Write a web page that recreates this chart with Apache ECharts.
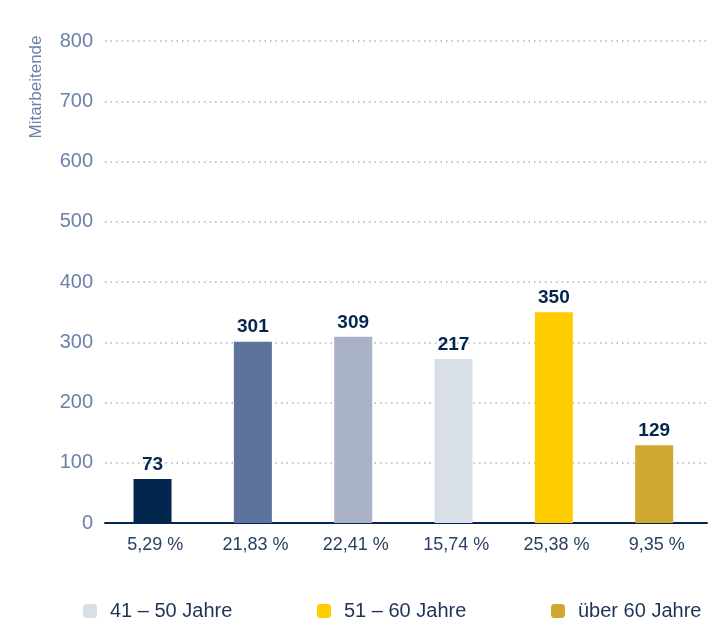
<!DOCTYPE html>
<html><head><meta charset="utf-8">
<script src="https://cdn.jsdelivr.net/npm/echarts@6/dist/echarts.min.js"></script>
<style>html,body{margin:0;padding:0;background:#fff}#c{width:722px;height:624px}</style>
</head><body><div id="c"></div>
<script>
const categories = ['5,29 %', '21,83 %', '22,41 %', '15,74 %', '25,38 %', '9,35 %'];
const barValues = [73, 301, 309, 272, 350, 129];
const barLabels = ['73', '301', '309', '217', '350', '129'];
const barColors = ['#03264f', '#5d739c', '#a9b2c6', '#d9dfe6', '#ffcc00', '#cfa82f'];
const legendNames = ['41 – 50 Jahre', '51 – 60 Jahre', 'über 60 Jahre'];
const legendColors = ['#d9dfe6', '#ffcc00', '#cfa82f'];
const yTicks = { min: 0, max: 800, interval: 100 };

const chart = echarts.init(document.getElementById('c'));
const font = '"Liberation Sans", Arial, sans-serif';
const series = [{
  type: 'bar',
  barWidth: 38,
  data: barValues.map((v, i) => ({ value: v, itemStyle: { color: barColors[i] } })),
  label: {
    show: true, position: 'top', distance: 5,
    formatter: p => barLabels[p.dataIndex],
    color: '#03264f', fontWeight: 'bold', fontSize: 19, fontFamily: font
  }
}];
legendNames.forEach((n, i) => series.push({ type: 'bar', name: n, data: [], itemStyle: { color: legendColors[i] } }));

chart.setOption({
  animation: false,
  grid: { left: 105, right: 15, top: 41, bottom: 101 },
  xAxis: {
    type: 'category', data: categories,
    axisLine: { lineStyle: { color: '#03264f', width: 2 } },
    axisTick: { show: false },
    axisLabel: { color: '#2a3f63', fontSize: 18, margin: 13, fontFamily: font }
  },
  yAxis: {
    type: 'value', min: yTicks.min, max: yTicks.max, interval: yTicks.interval,
    axisLine: { show: false }, axisTick: { show: false },
    axisLabel: { color: '#6b80aa', fontSize: 20, margin: 12, fontFamily: font },
    splitLine: { lineStyle: { color: '#a9b2c6', type: [1.5, 4], width: 1.5 } }
  },
  legend: legendNames.map((n, i) => ({
    data: [n], left: [83, 317, 551][i], top: 601, padding: 0,
    icon: 'roundRect', itemWidth: 14, itemHeight: 14, itemGap: 10,
    textStyle: { color: '#1f3358', fontSize: 20, fontFamily: font, padding: [0, 0, 0, 8] }
  })),
  graphic: [{
    type: 'text', x: 36, y: 87, rotation: Math.PI / 2,
    style: { text: 'Mitarbeitende', fill: '#6b80aa', fontSize: 17, fontFamily: font, textAlign: 'center', textVerticalAlign: 'middle' }
  }],
  series: series
});
</script></body></html>
